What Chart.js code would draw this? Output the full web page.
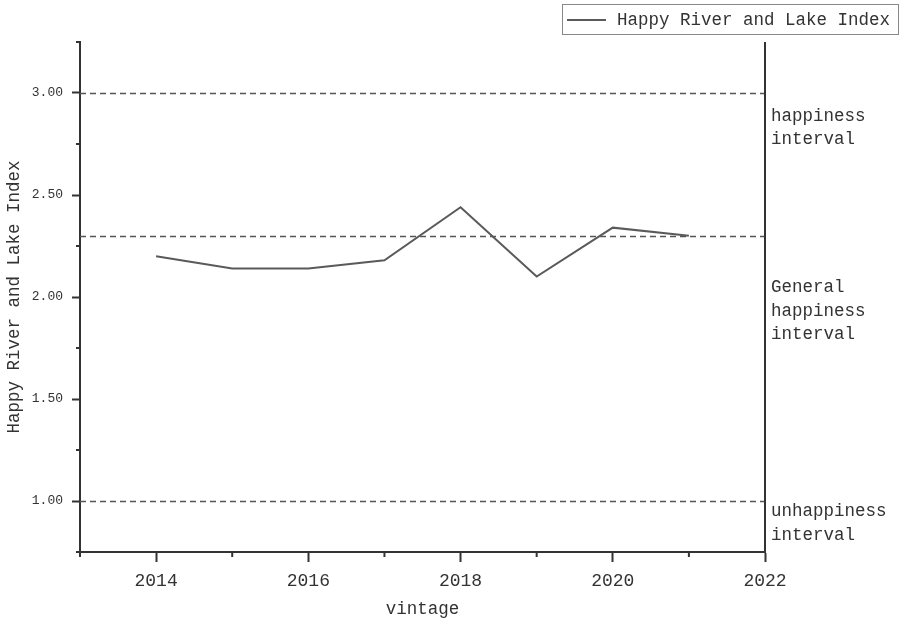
<!DOCTYPE html>
<html>
<head>
<meta charset="utf-8">
<script src="https://cdn.jsdelivr.net/npm/chart.js@4.4.0/dist/chart.umd.min.js"></script>
<style>
  html, body { margin: 0; padding: 0; background: #fff; }
  #wrap { width: 904px; height: 622px; }
</style>
</head>
<body>
<div id="wrap"><canvas id="myChart"></canvas></div>
<script>
// data
const years = [2014, 2015, 2016, 2017, 2018, 2019, 2020, 2021];
const indexValues = [2.20, 2.14, 2.14, 2.18, 2.44, 2.10, 2.34, 2.30];
const thresholds = [3.0, 2.3, 1.0];
const zoneLabels = [["happiness", "interval"], ["General", "happiness", "interval"], ["unhappiness", "interval"]];
const zoneValues = [2.83, 1.93, 0.89];
const xTickLabels = ["2014", "2016", "2018", "2020", "2022"];
const yTickLabels = ["1.00", "1.50", "2.00", "2.50", "3.00"];

const FONT = "'Liberation Mono', monospace";
const AXIS = "#333";
const TEXT = "#333";

const extras = {
    id: 'extras',
    beforeDatasetsDraw(chart) {
        const { ctx, chartArea, scales } = chart;
        ctx.save();
        ctx.strokeStyle = "#555";
        ctx.lineWidth = 1.5;
        ctx.setLineDash([6, 4]);
        thresholds.forEach(v => {
            const y = Math.round(scales.y.getPixelForValue(v)) + 0.5;
            ctx.beginPath();
            ctx.moveTo(chartArea.left, y);
            ctx.lineTo(chartArea.right, y);
            ctx.stroke();
        });
        ctx.restore();
    },
    afterDraw(chart) {
        const { ctx, chartArea, scales } = chart;
        ctx.save();
        // right axis line
        ctx.strokeStyle = AXIS;
        ctx.lineWidth = 2;
        ctx.beginPath();
        ctx.moveTo(chartArea.right, chartArea.top);
        ctx.lineTo(chartArea.right, chartArea.bottom);
        ctx.stroke();

        // minor ticks
        ctx.lineWidth = 2;
        scales.x.ticks.forEach(t => {
            if (xTickLabels.includes(String(t.value))) return;
            const x = scales.x.getPixelForValue(t.value);
            ctx.beginPath();
            ctx.moveTo(x, chartArea.bottom);
            ctx.lineTo(x, chartArea.bottom + 5);
            ctx.stroke();
        });
        scales.y.ticks.forEach(t => {
            if (yTickLabels.includes(t.value.toFixed(2))) return;
            const y = scales.y.getPixelForValue(t.value);
            ctx.beginPath();
            ctx.moveTo(chartArea.left - 4, y);
            ctx.lineTo(chartArea.left, y);
            ctx.stroke();
        });

        // zone annotations on the right
        ctx.fillStyle = TEXT;
        ctx.font = "17.5px " + FONT;
        ctx.textBaseline = 'middle';
        ctx.textAlign = 'left';
        const lh = 23.5;
        zoneLabels.forEach((lines, i) => {
            const cy = scales.y.getPixelForValue(zoneValues[i]);
            const y0 = cy - (lines.length - 1) * lh / 2;
            lines.forEach((s, j) => ctx.fillText(s, chartArea.right + 6, y0 + j * lh));
        });

        // legend box
        const ds = chart.data.datasets[0];
        ctx.strokeStyle = "#888";
        ctx.lineWidth = 1;
        ctx.strokeRect(562.5, 4.5, 336, 30);
        ctx.strokeStyle = ds.borderColor;
        ctx.lineWidth = 2;
        ctx.beginPath();
        ctx.moveTo(567, 20);
        ctx.lineTo(606, 20);
        ctx.stroke();
        ctx.fillStyle = TEXT;
        ctx.fillText(ds.label, 617, 20);
        ctx.restore();
    }
};

const ctx = document.getElementById("myChart");
const myChart = new Chart(ctx, {
    type: 'line',
    data: {
        datasets: [{
            label: "Happy River and Lake Index",
            data: years.map((yr, i) => ({ x: yr, y: indexValues[i] })),
            borderColor: "#5a5a5a",
            borderWidth: 2,
            pointRadius: 0,
            tension: 0,
            fill: false
        }]
    },
    options: {
        responsive: true,
        maintainAspectRatio: false,
        animation: false,
        layout: { padding: { left: 0, right: 139, top: 42, bottom: 0 } },
        plugins: {
            legend: { display: false },
            tooltip: { enabled: false }
        },
        scales: {
            x: {
                type: 'linear',
                min: 2013,
                max: 2022,
                afterFit: function (scale) { scale.height = 70; },
                border: { display: true, color: AXIS, width: 2 },
                grid: {
                    drawOnChartArea: false,
                    tickLength: 10,
                    tickWidth: 2,
                    tickColor: function (c) {
                        return xTickLabels.includes(String(c.tick.value)) ? AXIS : 'rgba(0,0,0,0)';
                    }
                },
                ticks: {
                    stepSize: 1,
                    padding: 8,
                    color: TEXT,
                    font: { family: FONT, size: 18 },
                    maxRotation: 0,
                    autoSkip: false,
                    callback: function (value) {
                        return xTickLabels.includes(String(value)) ? String(value) : '';
                    }
                },
                title: {
                    display: true,
                    text: 'vintage',
                    color: TEXT,
                    font: { family: FONT, size: 17.5 },
                    padding: { top: 0, bottom: 2 }
                }
            },
            y: {
                min: 0.75,
                max: 3.25,
                afterFit: function (scale) { scale.width = 80; },
                border: { display: true, color: AXIS, width: 2 },
                grid: {
                    drawOnChartArea: false,
                    tickLength: 8,
                    tickWidth: 2,
                    tickColor: function (c) {
                        return yTickLabels.includes(c.tick.value.toFixed(2)) ? AXIS : 'rgba(0,0,0,0)';
                    }
                },
                ticks: {
                    stepSize: 0.25,
                    padding: 9,
                    color: TEXT,
                    font: { family: FONT, size: 13 },
                    autoSkip: false,
                    callback: function (value) {
                        const s = value.toFixed(2);
                        return yTickLabels.includes(s) ? s : '';
                    }
                },
                title: {
                    display: true,
                    text: 'Happy River and Lake Index',
                    color: TEXT,
                    font: { family: FONT, size: 17.5 },
                    padding: { top: 4, bottom: 0 }
                }
            }
        }
    },
    plugins: [extras]
});
</script>
</body>
</html>
